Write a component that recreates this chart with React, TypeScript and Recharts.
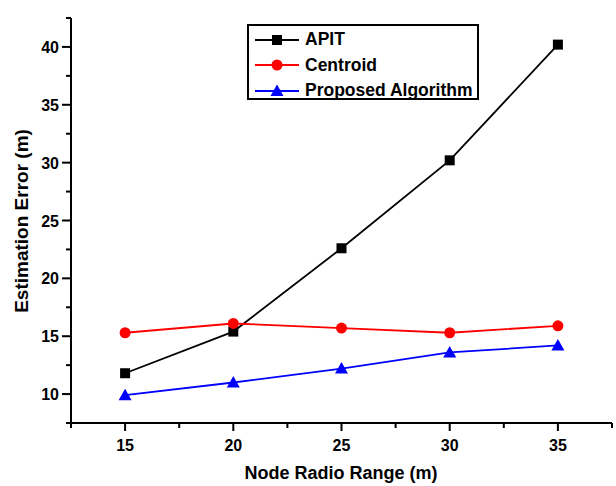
import { LineChart, Line, XAxis, YAxis, Legend } from 'recharts'

const ranges = [15, 20, 25, 30, 35]
const apit = [11.8, 15.4, 22.6, 30.2, 40.2]
const centroid = [15.3, 16.1, 15.7, 15.3, 15.9]
const proposed = [9.9, 11.0, 12.2, 13.6, 14.2]

const xTicks = [12.5, 15, 17.5, 20, 22.5, 25, 27.5, 30, 32.5, 35, 37.5]
const yTicks = [7.5, 10, 12.5, 15, 17.5, 20, 22.5, 25, 27.5, 30, 32.5, 35, 37.5, 40, 42.5]

const FONT = '"Liberation Sans", Arial, sans-serif'

const data = ranges.map((r, i) => ({
  range: r,
  apit: apit[i],
  centroid: centroid[i],
  proposed: proposed[i],
}))

type Shape = 'square' | 'circle' | 'triangle'

const series: { key: string; name: string; color: string; shape: Shape }[] = [
  { key: 'apit', name: 'APIT', color: '#000000', shape: 'square' },
  { key: 'centroid', name: 'Centroid', color: '#ff0000', shape: 'circle' },
  { key: 'proposed', name: 'Proposed Algorithm', color: '#0000ff', shape: 'triangle' },
]

function marker(shape: Shape, cx: number, cy: number, color: string, key?: string) {
  if (shape === 'square')
    return <rect key={key} x={cx - 5} y={cy - 5} width={10} height={10} fill={color} />
  if (shape === 'circle') return <circle key={key} cx={cx} cy={cy} r={5.5} fill={color} />
  return (
    <polygon
      key={key}
      points={`${cx},${cy - 6.5} ${cx + 6.5},${cy + 5} ${cx - 6.5},${cy + 5}`}
      fill={color}
    />
  )
}

const XTick = ({ x, y, payload }: any) => {
  const major = payload.value % 5 === 0
  return (
    <g>
      <line x1={x} x2={x} y1={y} y2={y + (major ? 8 : 5)} stroke="#000" strokeWidth={2} />
      {major && (
        <text x={x} y={y + 28} textAnchor="middle" fontSize={16} fontWeight="bold" fontFamily={FONT} fill="#000">
          {payload.value}
        </text>
      )}
    </g>
  )
}

const YTick = ({ x, y, payload }: any) => {
  const major = payload.value % 5 === 0
  return (
    <g>
      <line x1={x - (major ? 9 : 5)} x2={x} y1={y} y2={y} stroke="#000" strokeWidth={2} />
      {major && (
        <text x={x - 12} y={y + 6} textAnchor="end" fontSize={16} fontWeight="bold" fontFamily={FONT} fill="#000">
          {payload.value}
        </text>
      )}
    </g>
  )
}

const LegendBox = () => (
  <div
    style={{
      border: '2px solid #000',
      background: '#fff',
      boxSizing: 'border-box',
      width: 232,
      height: 76,
      paddingTop: 1,
      fontFamily: FONT,
      fontWeight: 'bold',
      fontSize: 17.5,
      color: '#000',
    }}
  >
    {series.map((s) => (
      <div key={s.key} style={{ display: 'flex', alignItems: 'center', height: 25.5 }}>
        <svg width={56} height={16} style={{ flex: 'none' }}>
          <line x1={6} x2={50} y1={8} y2={8} stroke={s.color} strokeWidth={1.8} />
          {marker(s.shape, 28, 8, s.color)}
        </svg>
        <span style={{ lineHeight: 1 }}>{s.name}</span>
      </div>
    ))}
  </div>
)

export default function App() {
  return (
    <div style={{ position: 'absolute', left: 0, top: 0, background: '#fff' }}>
      <LineChart width={616} height={486} data={data} margin={{ top: 18, right: 4, bottom: 0, left: 0 }}>
        <XAxis
          dataKey="range"
          type="number"
          domain={[12.5, 37.5]}
          ticks={xTicks}
          interval={0}
          height={63}
          tickSize={0}
          tickMargin={0}
          tickLine={false}
          tick={<XTick />}
          axisLine={{ stroke: '#000', strokeWidth: 2 }}
          label={() => (
            <text x={341} y={479} textAnchor="middle" fontSize={18} fontWeight="bold" fontFamily={FONT} fill="#000">
              Node Radio Range (m)
            </text>
          )}
        />
        <YAxis
          type="number"
          domain={[7.5, 42.5]}
          ticks={yTicks}
          interval={0}
          width={71}
          tickSize={0}
          tickMargin={0}
          tickLine={false}
          tick={<YTick />}
          axisLine={{ stroke: '#000', strokeWidth: 2 }}
          label={() => (
            <text
              x={28}
              y={221}
              transform="rotate(-90 28 221)"
              textAnchor="middle"
              fontSize={19}
              fontWeight="bold"
              fontFamily={FONT}
              fill="#000"
            >
              Estimation Error (m)
            </text>
          )}
        />
        <Legend
          layout="vertical"
          align="center"
          verticalAlign="middle"
          content={<LegendBox />}
          wrapperStyle={{ left: 247, top: 24, width: 232, height: 76 }}
        />
        {series.map((s) => (
          <Line
            key={s.key}
            type="linear"
            dataKey={s.key}
            name={s.name}
            stroke={s.color}
            strokeWidth={1.8}
            isAnimationActive={false}
            dot={(p: any) => marker(s.shape, p.cx, p.cy, s.color, `${s.key}-${p.index}`)}
            activeDot={false}
          />
        ))}
      </LineChart>
    </div>
  )
}
